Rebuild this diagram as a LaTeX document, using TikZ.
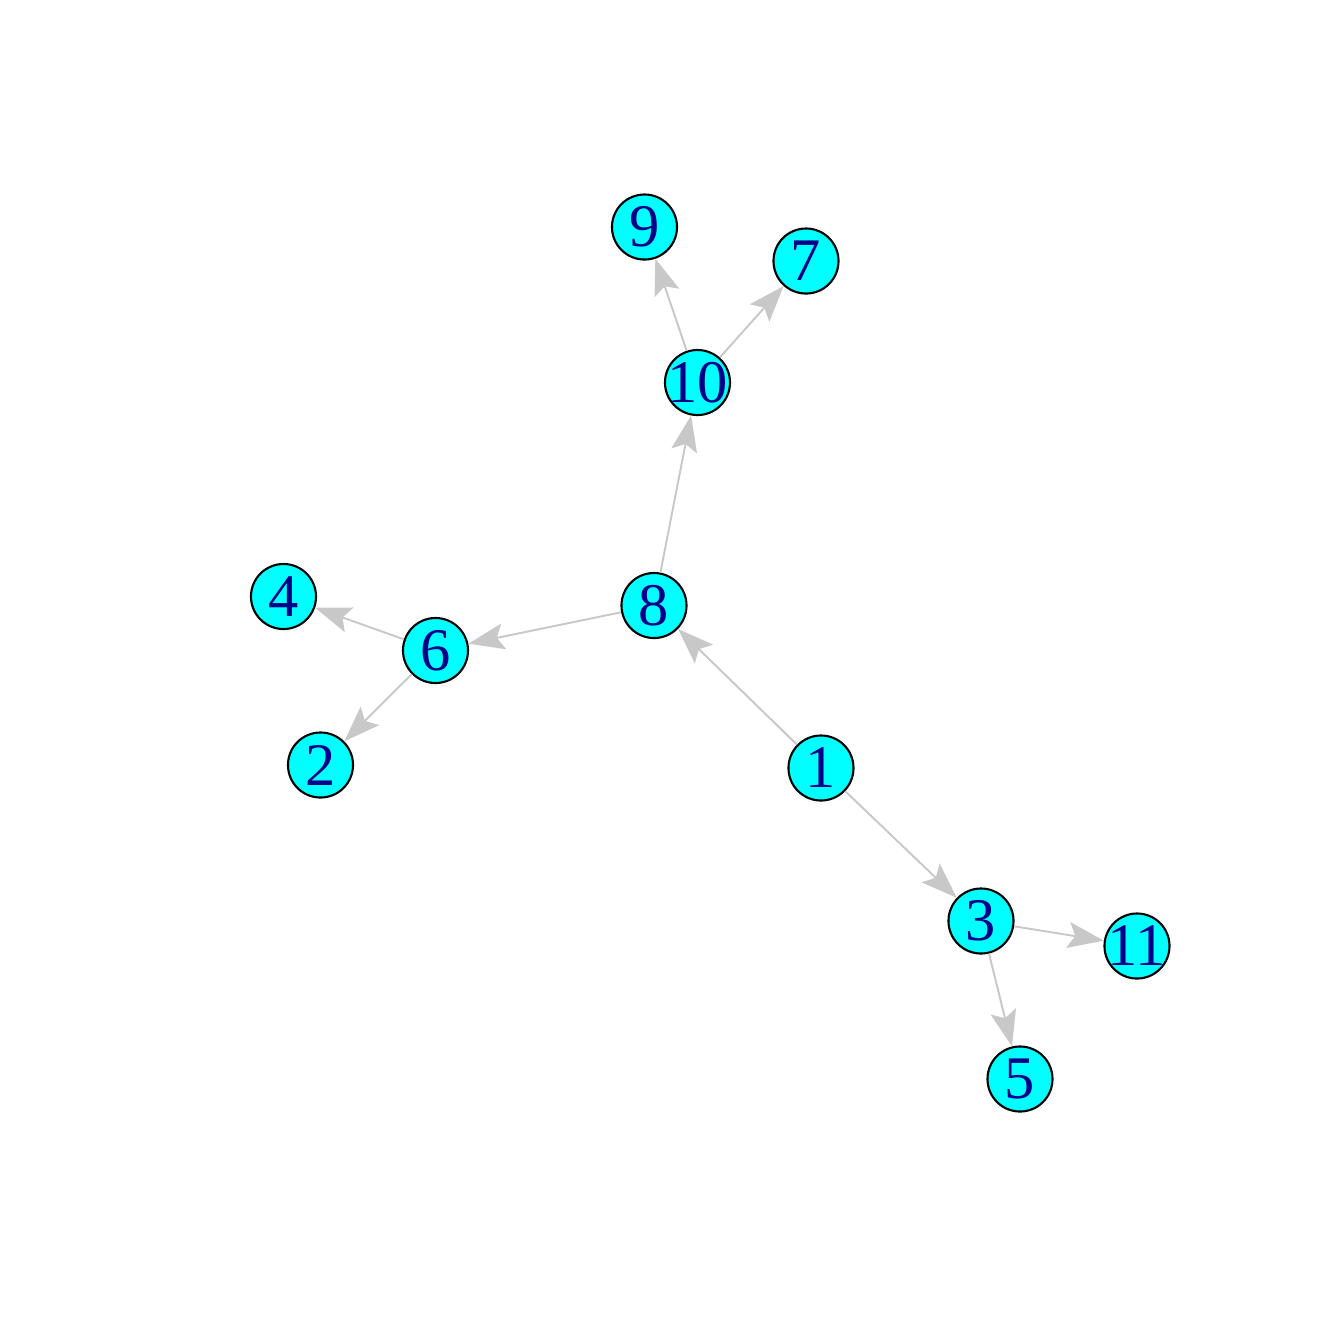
\documentclass[tikz,border=0pt]{standalone}
\usepackage{fontspec}
\setmainfont{Liberation Serif}
\usetikzlibrary{arrows.meta}
\definecolor{edgegray}{RGB}{200,200,200}
\definecolor{vcyan}{RGB}{0,255,255}
\definecolor{vtext}{RGB}{0,0,139}
\newcommand{\vlab}[1]{\makebox[0pt]{#1}}
\tikzset{
  vertex/.style={circle, draw=black, line width=0.6pt, fill=vcyan, text=vtext,
    minimum size=0.65cm, inner sep=0pt, font=\fontsize{17.2}{20}\selectfont},
  edge/.style={draw=edgegray, line width=0.55pt,
    -{Stealth[length=0.36cm, width=0.26cm, inset=0.07cm, fill=edgegray]}}
}
\begin{document}
\begin{tikzpicture}[x=0.01cm, y=-0.01cm]
\useasboundingbox (0,0) rectangle (1344,1344);
\node[vertex] (n1) at (821,768) {\vlab{1}};
\node[vertex] (n2) at (320.5,765) {\vlab{2}};
\node[vertex] (n3) at (981,921) {\vlab{3}};
\node[vertex] (n4) at (283.5,596.5) {\vlab{4}};
\node[vertex] (n5) at (1020,1079) {\vlab{5}};
\node[vertex] (n6) at (435.5,650.5) {\vlab{6}};
\node[vertex] (n7) at (806,261) {\vlab{7}};
\node[vertex] (n8) at (654,605.5) {\vlab{8}};
\node[vertex] (n9) at (644.5,227) {\vlab{9}};
\node[vertex] (n10) at (697.5,382.5) {\vlab{10}};
\node[vertex] (n11) at (1137,946) {\vlab{11}};
\draw[edge] (n1) -- (n8);
\draw[edge] (n1) -- (n3);
\draw[edge] (n8) -- (n6);
\draw[edge] (n8) -- (n10);
\draw[edge] (n6) -- (n4);
\draw[edge] (n6) -- (n2);
\draw[edge] (n10) -- (n9);
\draw[edge] (n10) -- (n7);
\draw[edge] (n3) -- (n11);
\draw[edge] (n3) -- (n5);
\end{tikzpicture}
\end{document}
